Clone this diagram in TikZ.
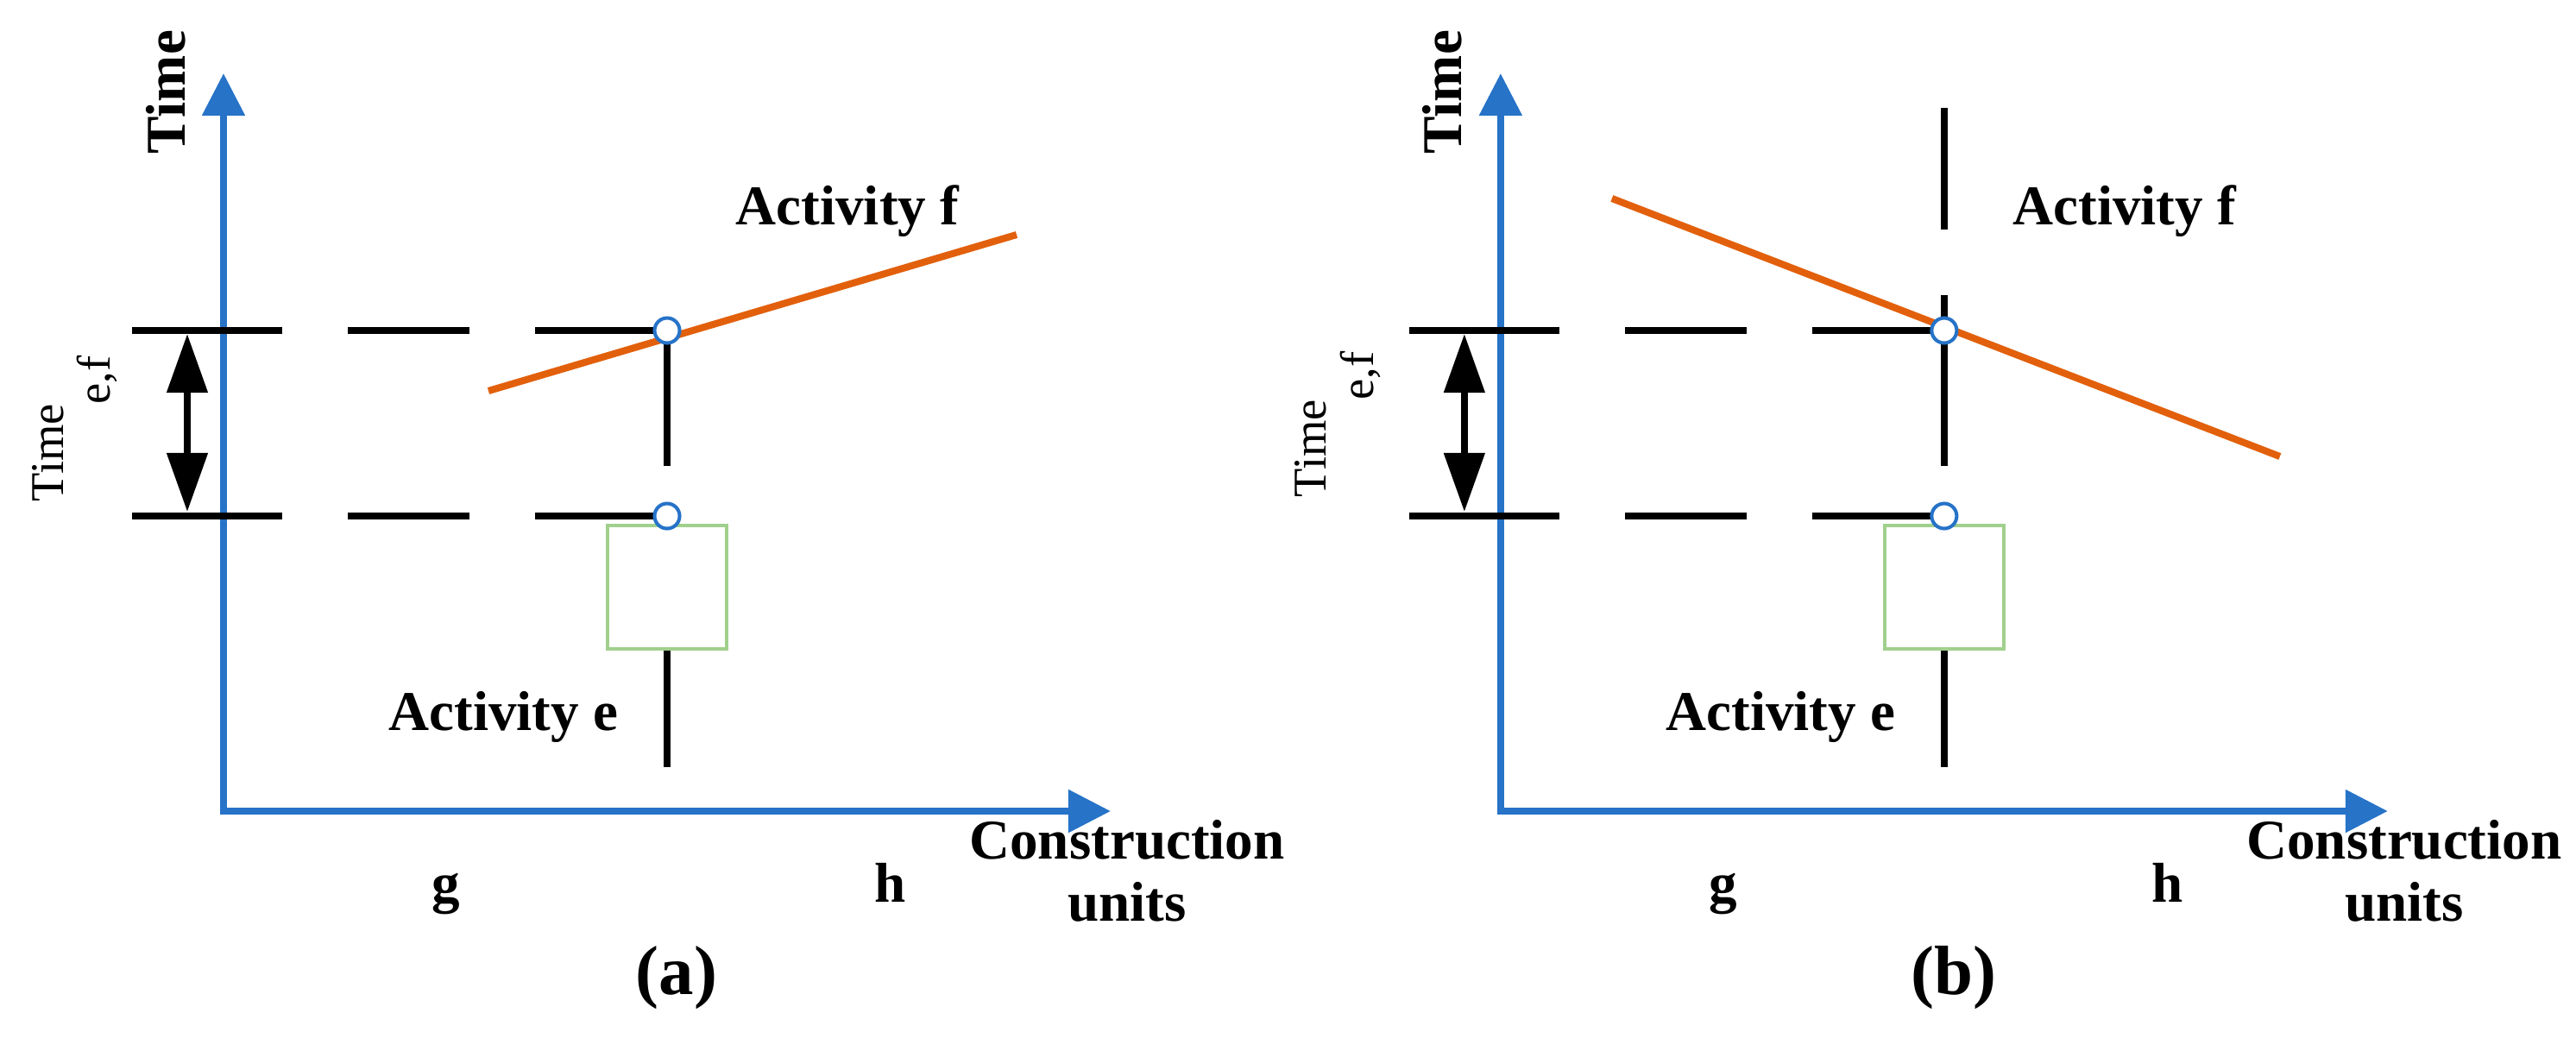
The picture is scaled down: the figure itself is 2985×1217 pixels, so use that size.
\documentclass[tikz,border=0pt]{standalone}
\usepackage{fontspec}
\setmainfont{Liberation Serif}
\usetikzlibrary{arrows.meta}
\definecolor{axisblue}{RGB}{38,115,200}
\definecolor{actorange}{RGB}{226,96,12}
\definecolor{boxgreen}{RGB}{160,208,140}

\newcommand\panelbase[2]{%
  % axes
  \coordinate (o#1) at (259,940);
  \coordinate (ytop#1) at (259,85);
  \coordinate (xend#1) at (1287,940);
  \draw[axisline] (ytop#1) -- (o#1) -- (xend#1);
  % key points
  \coordinate (cu#1) at (773,383);
  \coordinate (cl#1) at (773,598);
  % dashed guide lines
  \coordinate (du1#1) at (153,383); \coordinate (du2#1) at (327,383);
  \coordinate (du3#1) at (403,383); \coordinate (du4#1) at (544,383);
  \coordinate (du5#1) at (620,383);
  \coordinate (dl1#1) at (153,598); \coordinate (dl2#1) at (327,598);
  \coordinate (dl3#1) at (403,598); \coordinate (dl4#1) at (544,598);
  \coordinate (dl5#1) at (620,598);
  \draw[guide] (du1#1) -- (du2#1) (du3#1) -- (du4#1) (du5#1) -- (cu#1);
  \draw[guide] (dl1#1) -- (dl2#1) (dl3#1) -- (dl4#1) (dl5#1) -- (cl#1);
  % double arrow
  \coordinate (at#1) at (217,387);
  \coordinate (ab#1) at (217,593);
  \draw[dbl] (at#1) -- (ab#1);
  % activity e box
  \node[ebox] (box#1) at (773,680.5) {};
  \coordinate (ve#1) at (773,889);
  \draw[guide] (box#1.south) -- (ve#1);
  % labels
  \node[lab, rotate=90, anchor=base west] (ylab#1) at (214,179) {Time};
  \node[lab, anchor=base] (actf#1) at (982,260) {Activity f};
  \node[lab, anchor=base east] (acte#1) at (717,846) {Activity e};
  \node[lab, anchor=base] (g#1) at (517,1045) {g};
  \node[lab, anchor=base] (h#1) at (1032,1045) {h};
  \node[lab, anchor=north, align=center] (xlab#1) at (1306,950) {Construction\\units};
  \node[captxt, anchor=base] (caption#1) at (784,1152) {(#2)};
}

\begin{document}
\begin{tikzpicture}[x=0.01cm, y=-0.01cm,
  axisline/.style={draw=axisblue, line width=2.4pt, line join=miter,
    {Triangle[length=4.9mm,width=4.8mm]}-{Triangle[length=4.9mm,width=4.8mm]}},
  guide/.style={draw=black, line width=2.2pt},
  dbl/.style={draw=black, line width=2.2pt,
    {Triangle[length=6.8mm,width=4.6mm]}-{Triangle[length=6.8mm,width=4.6mm]}},
  flowline/.style={draw=actorange, line width=2.3pt},
  ebox/.style={draw=boxgreen, fill=white, line width=1.1pt, inner sep=0pt,
    minimum width=1.38cm, minimum height=1.43cm},
  pt/.style={circle, draw=axisblue, fill=white, line width=1.15pt, inner sep=0pt,
    minimum size=0.29cm},
  lab/.style={font=\fontsize{18.5pt}{20.5pt}\selectfont\bfseries, inner sep=0pt},
  sublab/.style={font=\fontsize{15.5pt}{17pt}\selectfont, inner sep=0pt},
  captxt/.style={font=\fontsize{23pt}{26pt}\selectfont\bfseries, inner sep=0pt}]
\useasboundingbox (0,0) rectangle (2985,1217);

% ---------- panel (a) ----------
\panelbase{A}{a}
\coordinate (vaA) at (773,540);
\draw[guide] (cuA) -- (vaA);
\coordinate (fsA) at (566,453);
\coordinate (feA) at (1178,272);
\draw[flowline] (fsA) -- (feA);
\node[pt] (cuptA) at (cuA) {};
\node[pt] (clptA) at (clA) {};
\node[sublab, rotate=90, anchor=base west] (tefA) at (73,582) {Time\raisebox{-1em}{e,f}};

% ---------- panel (b) ----------
\begin{scope}[xshift=14.79cm]
\panelbase{B}{b}
\coordinate (v1B) at (773,125);
\coordinate (v2B) at (773,266);
\coordinate (v3B) at (773,342);
\coordinate (v4B) at (773,540);
\draw[guide] (v1B) -- (v2B) (v3B) -- (v4B);
\coordinate (fsB) at (388,230);
\coordinate (feB) at (1162,529);
\draw[flowline] (fsB) -- (feB);
\node[pt] (cuptB) at (cuB) {};
\node[pt] (clptB) at (clB) {};
\node[sublab, rotate=90, anchor=base west] (tefB) at (57,577) {Time\raisebox{-1em}{e,f}};
\end{scope}
\end{tikzpicture}
\end{document}
